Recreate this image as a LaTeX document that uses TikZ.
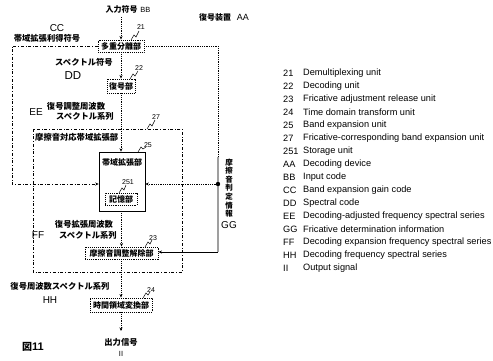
\documentclass[tikz,border=0pt]{standalone}
\usepackage{fontspec}
\setmainfont{Liberation Sans}
\newfontfamily\jp{Noto Sans CJK JP}
\usetikzlibrary{arrows.meta}
\begin{document}
\begin{tikzpicture}[x=1pt,y=-1pt,
  box/.style={draw, densely dotted, line width=0.9pt, inner sep=1pt, font=\jp\bfseries\fontsize{8}{8}\selectfont},
  conn/.style={densely dotted, line width=0.8pt, -{Stealth[length=3.5pt,width=3pt]}},
  solidarrow/.style={line width=0.7pt, -{Stealth[length=3.5pt,width=3pt]}},
  frame/.style={dash dot, line width=0.7pt},
  jlab/.style={font=\jp\bfseries\fontsize{8.3}{9}\selectfont, inner sep=0pt},
  elab/.style={font=\fontsize{10}{11}\selectfont, inner sep=0pt},
  num/.style={font=\fontsize{7}{8}\selectfont, inner sep=0pt},
  leg/.style={font=\fontsize{9.2}{10}\selectfont, inner sep=0pt, anchor=west},
  squig/.style={line width=0.5pt}
]
\useasboundingbox (0,0) rectangle (493,360);

% frames
\draw[frame] (33,129) rectangle (182,272);

% boxes
\node[box, minimum width=46pt, minimum height=12pt] (b21) at (121,46) {多重分離部};
\node[box, minimum width=28pt, minimum height=14pt] (b22) at (121,86) {復号部};
\node[draw, line width=0.6pt, minimum width=46pt, minimum height=59pt, inner sep=0pt] (b25) at (122,181.5) {};
\node[jlab, font=\jp\bfseries\fontsize{8}{9}\selectfont] (t25) at (122,162) {帯域拡張部};
\node[box, minimum width=32pt, minimum height=12pt] (b251) at (121,199) {記憶部};
\node[box, minimum width=73pt, minimum height=12pt] (b23) at (121.5,253) {摩擦音調整解除部};
\node[box, minimum width=62pt, minimum height=14pt] (b24) at (121,305) {時間領域変換部};

% coordinates
\coordinate (cin) at (121,17);
\coordinate (cout) at (121,331);
\coordinate (cL1) at (12,46);
\coordinate (cL2) at (12,184);
\coordinate (cR1) at (218,46);
\coordinate (jn) at (218,184);
\coordinate (g1) at (218,157);
\coordinate (g2) at (218,252);

% connectors
\draw[conn] (cin) -- (b21.north);
\draw[conn] (b21.south) -- (b22.north);
\draw[conn] (b22.south) -- (b25.north -| b22.south);
\draw[frame, -{Stealth[length=3.5pt,width=3pt]}] (b21.west) -- (cL1) -- (cL2) -- (cL2 -| b25.west);
\draw[densely dotted, line width=0.8pt] (b21.east) -- (cR1) -- (jn);
\draw[gray!75, line width=1.6pt] (g1) -- (g2);
\draw[conn] (jn) -- (jn -| b25.east);
\fill (jn) circle (2.2pt);
\draw[solidarrow] (g2) -- (g2 -| b23.east);
\draw[conn] (b25.south -| b23.north) -- (b23.north);
\draw[conn] (b23.south -| b24.north) -- (b24.north);
\draw[conn] (b24.south) -- (cout);

% number labels with squiggles
\node[num] (n21) at (141,27) {21};
\draw[squig] (131,40) -- (134,35) -- (136,37) -- (139,31);
\node[num] (n22) at (139,68) {22};
\draw[squig] (130,79) -- (133,74) -- (135,76) -- (138,71);
\node[num] (n27) at (156,117) {27};
\draw[squig] (147,129) -- (150,124) -- (152,126) -- (155,120);
\node[num] (n25) at (148,145) {25};
\draw[squig] (138,152) -- (141,147) -- (143,149) -- (146,147);
\node[num] (n251) at (128,182) {251};
\draw[squig] (119,193) -- (122,188) -- (124,190) -- (126,185);
\node[num] (n23) at (153,238) {23};
\draw[squig] (145,247) -- (148,242) -- (150,244) -- (152,240);
\node[num] (n24) at (151,290) {24};
\draw[squig] (143,298) -- (146,293) -- (148,295) -- (150,292);

% texts
\node[inner sep=0pt] (tin) at (128,9) {{\jp\bfseries\fontsize{8}{9}\selectfont 入力符号}\ {\fontsize{7.5}{8}\selectfont BB}};
\node[inner sep=0pt] (taa) at (224,17) {{\jp\bfseries\fontsize{8}{9}\selectfont 復号装置}\ \ {\fontsize{9}{10}\selectfont AA}};
\node[elab] (tcc) at (57,28) {CC};
\node[jlab] (tcc2) at (47,38) {帯域拡張利得符号};
\node[jlab] (tdd1) at (84,62) {スペクトル符号};
\node[elab, font=\fontsize{11.5}{12}\selectfont] (tdd) at (73,76) {DD};
\node[elab] (tee) at (36,112) {EE};
\node[jlab] (tee1) at (76,106) {復号調整周波数};
\node[jlab] (tee2) at (85,116) {スペクトル系列};
\node[jlab, anchor=west] (t27) at (35,137) {摩擦音対応帯域拡張部};
\node[jlab, align=center, font=\jp\bfseries\fontsize{7.5}{8.6}\selectfont] (tgg1) at (229,188) {摩\\擦\\音\\判\\定\\情\\報};
\node[elab] (tgg) at (229,225) {GG};
\node[jlab] (tff1) at (84,224) {復号拡張周波数};
\node[elab] (tff) at (38,235) {FF};
\node[jlab] (tff2) at (88,235) {スペクトル系列};
\node[jlab] (thh1) at (60,286) {復号周波数スペクトル系列};
\node[elab] (thh) at (50,300) {HH};
\node[jlab] (tout) at (121,342) {出力信号};
\node[elab, font=\fontsize{7.5}{8}\selectfont] (tii) at (121,354) {II};
\node[inner sep=0pt] (tfig) at (33,347) {{\jp\bfseries\fontsize{10}{11}\selectfont 図}{\bfseries\fontsize{11}{12}\selectfont 11}};

% legend
\foreach \k/\t [count=\i from 0] in {21/Demultiplexing unit, 22/Decoding unit, 23/Fricative adjustment release unit, 24/Time domain transform unit, 25/Band expansion unit, 27/Fricative-corresponding band expansion unit, 251/Storage unit, AA/Decoding device, BB/Input code, CC/Band expansion gain code, DD/Spectral code, EE/Decoding-adjusted frequency spectral series, GG/Fricative determination information, FF/Decoding expansion frequency spectral series, HH/Decoding frequency spectral series, II/Output signal} {
  \node[leg] (lk\i) at (283,73+13*\i) {\k};
  \node[leg] (lt\i) at (303,73+13*\i) {\t};
}
\end{tikzpicture}
\end{document}
